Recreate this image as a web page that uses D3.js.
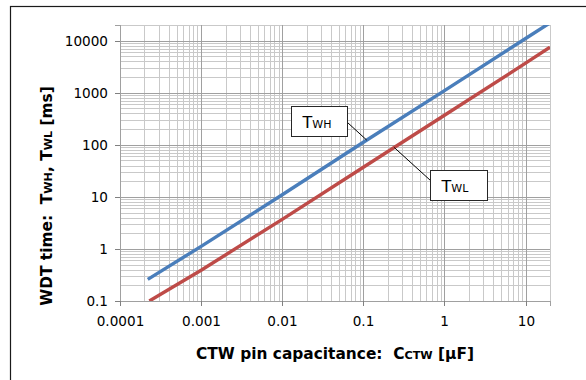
<!DOCTYPE html>
<html>
<head>
<meta charset="utf-8">
<script src="https://cdn.jsdelivr.net/npm/d3@7"></script>
<style>
  html, body { margin: 0; padding: 0; background: #fff; }
  svg { display: block; }
  text { font-family: "DejaVu Sans", Verdana, sans-serif; fill: #000; }
</style>
</head>
<body>
<svg id="chart" width="586" height="380"></svg>
<script>
// WDT time versus CTW pin capacitance (log-log)
const capH = [0.00022, 0.001, 0.01, 0.1, 1, 10, 20];
const timeWH = [0.26, 1.12, 11, 112, 1100, 11000, 22000];
const capL = [0.00023, 0.001, 0.01, 0.1, 1, 10, 20];
const timeWL = [0.1, 0.39, 3.7, 37, 370, 3700, 7500];

const xTickValues = [0.0001, 0.001, 0.01, 0.1, 1, 10];
const xTickLabels = ["0.0001", "0.001", "0.01", "0.1", "1", "10"];
const yTickValues = [0.1, 1, 10, 100, 1000, 10000];
const yTickLabels = ["0.1", "1", "10", "100", "1000", "10000"];

const series = [
  { name: "WH", c: capH, t: timeWH, color: "#4a7ebb" },
  { name: "WL", c: capL, t: timeWL, color: "#be4b48" }
];

// callouts: anchor capacitance on a series, box offset from that anchor
const callouts = [
  { series: 0, c: 0.11, dx: -76, dy: -34, w: 56, h: 30, side: "right", ly: 16 },
  { series: 1, c: 0.24, dx: 36, dy: 23, w: 57, h: 30, side: "left", ly: 10 }
];

const svg = d3.select("#chart");
const plot = { left: 120, right: 550, top: 25, bottom: 301 };

const x = d3.scaleLog().domain([0.0001, 20]).range([plot.left, plot.right]);
const y = d3.scaleLog().domain([0.1, 20000]).range([plot.bottom, plot.top]);
const crisp = v => Math.round(v) + 0.5;

// chart frame
svg.append("rect")
  .attr("x", 10.5).attr("y", 6.5)
  .attr("width", 600).attr("height", 400)
  .attr("fill", "none").attr("stroke", "#1a1a1a").attr("stroke-width", 1.2);

const isMajor = v => Math.abs(Math.log10(v) - Math.round(Math.log10(v))) < 1e-9;

// gridlines
const grid = svg.append("g").attr("shape-rendering", "crispEdges");
const xGrid = x.ticks().filter(v => v >= 0.0001 && v <= 20 + 1e-9);
const yGrid = y.ticks().filter(v => v >= 0.1 - 1e-12 && v <= 20000 + 1e-6);

grid.selectAll("line.gx-minor").data(xGrid.filter(v => !isMajor(v))).join("line")
  .attr("x1", d => crisp(x(d))).attr("x2", d => crisp(x(d)))
  .attr("y1", plot.top).attr("y2", plot.bottom)
  .attr("stroke", "#c9c9c9");
grid.selectAll("line.gy-minor").data(yGrid.filter(v => !isMajor(v))).join("line")
  .attr("y1", d => crisp(y(d))).attr("y2", d => crisp(y(d)))
  .attr("x1", plot.left).attr("x2", plot.right)
  .attr("stroke", "#c9c9c9");
grid.selectAll("line.gx-major").data(xGrid.filter(isMajor)).join("line")
  .attr("x1", d => crisp(x(d))).attr("x2", d => crisp(x(d)))
  .attr("y1", plot.top).attr("y2", plot.bottom)
  .attr("stroke", "#a0a0a0");
grid.selectAll("line.gy-major").data(yGrid.filter(isMajor)).join("line")
  .attr("y1", d => crisp(y(d))).attr("y2", d => crisp(y(d)))
  .attr("x1", plot.left).attr("x2", plot.right)
  .attr("stroke", "#a0a0a0");

// axes
const yAxis = d3.axisLeft(y).tickValues(yTickValues)
  .tickFormat((d, i) => yTickLabels[i]).tickSize(5).tickPadding(7);
const xAxis = d3.axisBottom(x).tickValues(xTickValues)
  .tickFormat((d, i) => xTickLabels[i]).tickSize(5).tickPadding(10);

const gy = svg.append("g").attr("transform", `translate(${crisp(plot.left) - 0.5},0)`).call(yAxis);
const gx = svg.append("g").attr("transform", `translate(0,${crisp(plot.bottom) - 0.5})`).call(xAxis);
[gy, gx].forEach(g => {
  g.select(".domain").attr("stroke", "#a0a0a0").attr("shape-rendering", "crispEdges");
  g.selectAll(".tick line").attr("stroke", "#808080").attr("shape-rendering", "crispEdges");
  g.selectAll(".tick text").attr("font-family", "DejaVu Sans, Verdana, sans-serif")
    .attr("font-size", 13.6).attr("fill", "#000");
});
gy.selectAll(".tick").attr("transform", d => `translate(0,${crisp(y(d))})`);
gx.selectAll(".tick").attr("transform", d => `translate(${crisp(x(d))},0)`);

// series lines
svg.append("clipPath").attr("id", "plot-clip").append("rect")
  .attr("x", plot.left).attr("y", plot.top)
  .attr("width", plot.right - plot.left).attr("height", plot.bottom - plot.top);

const line = d3.line().x(d => x(d[0])).y(d => y(d[1]));
const lines = svg.append("g").attr("clip-path", "url(#plot-clip)");
series.forEach(s => {
  lines.append("path")
    .datum(s.c.map((c, i) => [c, s.t[i]]))
    .attr("d", line)
    .attr("fill", "none")
    .attr("stroke", s.color)
    .attr("stroke-width", 3.4)
    .attr("stroke-linejoin", "round");
});

// value on a series at a given capacitance (log-log interpolation)
function valueAt(s, c) {
  const lc = s.c.map(Math.log10), lt = s.t.map(Math.log10);
  const k = Math.log10(c);
  let i = d3.bisectRight(lc, k) - 1;
  i = Math.max(0, Math.min(lc.length - 2, i));
  const f = (k - lc[i]) / (lc[i + 1] - lc[i]);
  return Math.pow(10, lt[i] + f * (lt[i + 1] - lt[i]));
}

// callouts
const ann = svg.append("g");
callouts.forEach(cl => {
  const s = series[cl.series];
  const ax = x(cl.c), ay = y(valueAt(s, cl.c));
  const bx = Math.round(ax + cl.dx) + 0.5, by = Math.round(ay + cl.dy) + 0.5;
  const lx = cl.side === "right" ? bx + cl.w : bx;
  ann.append("line")
    .attr("x1", lx).attr("y1", by + cl.ly).attr("x2", ax).attr("y2", ay)
    .attr("stroke", "#000").attr("stroke-width", 1);
  ann.append("rect")
    .attr("x", bx).attr("y", by).attr("width", cl.w).attr("height", cl.h)
    .attr("fill", "#fff").attr("stroke", "#262626").attr("stroke-width", 1);
  const t = ann.append("text").attr("x", bx + 11).attr("y", by + 21);
  t.append("tspan").attr("font-size", 16).text("T");
  t.append("tspan").attr("font-size", 11).text(s.name);
});

// axis titles
const xt = svg.append("text")
  .attr("x", (plot.left + plot.right) / 2).attr("y", 359)
  .attr("text-anchor", "middle").attr("font-weight", "bold").attr("font-size", 15.4);
xt.append("tspan").text("CTW pin capacitance:\u00a0 C");
xt.append("tspan").attr("font-size", 11.2).text("CTW");
xt.append("tspan").text(" [\u03bcF]");

const yt = svg.append("text")
  .attr("transform", "translate(52,196) rotate(-90)")
  .attr("text-anchor", "middle").attr("font-weight", "bold").attr("font-size", 15.4);
yt.append("tspan").text("WDT time:\u00a0 T");
yt.append("tspan").attr("font-size", 11.2).text("WH");
yt.append("tspan").text(", T");
yt.append("tspan").attr("font-size", 11.2).text("WL");
yt.append("tspan").text(" [ms]");
</script>
</body>
</html>
